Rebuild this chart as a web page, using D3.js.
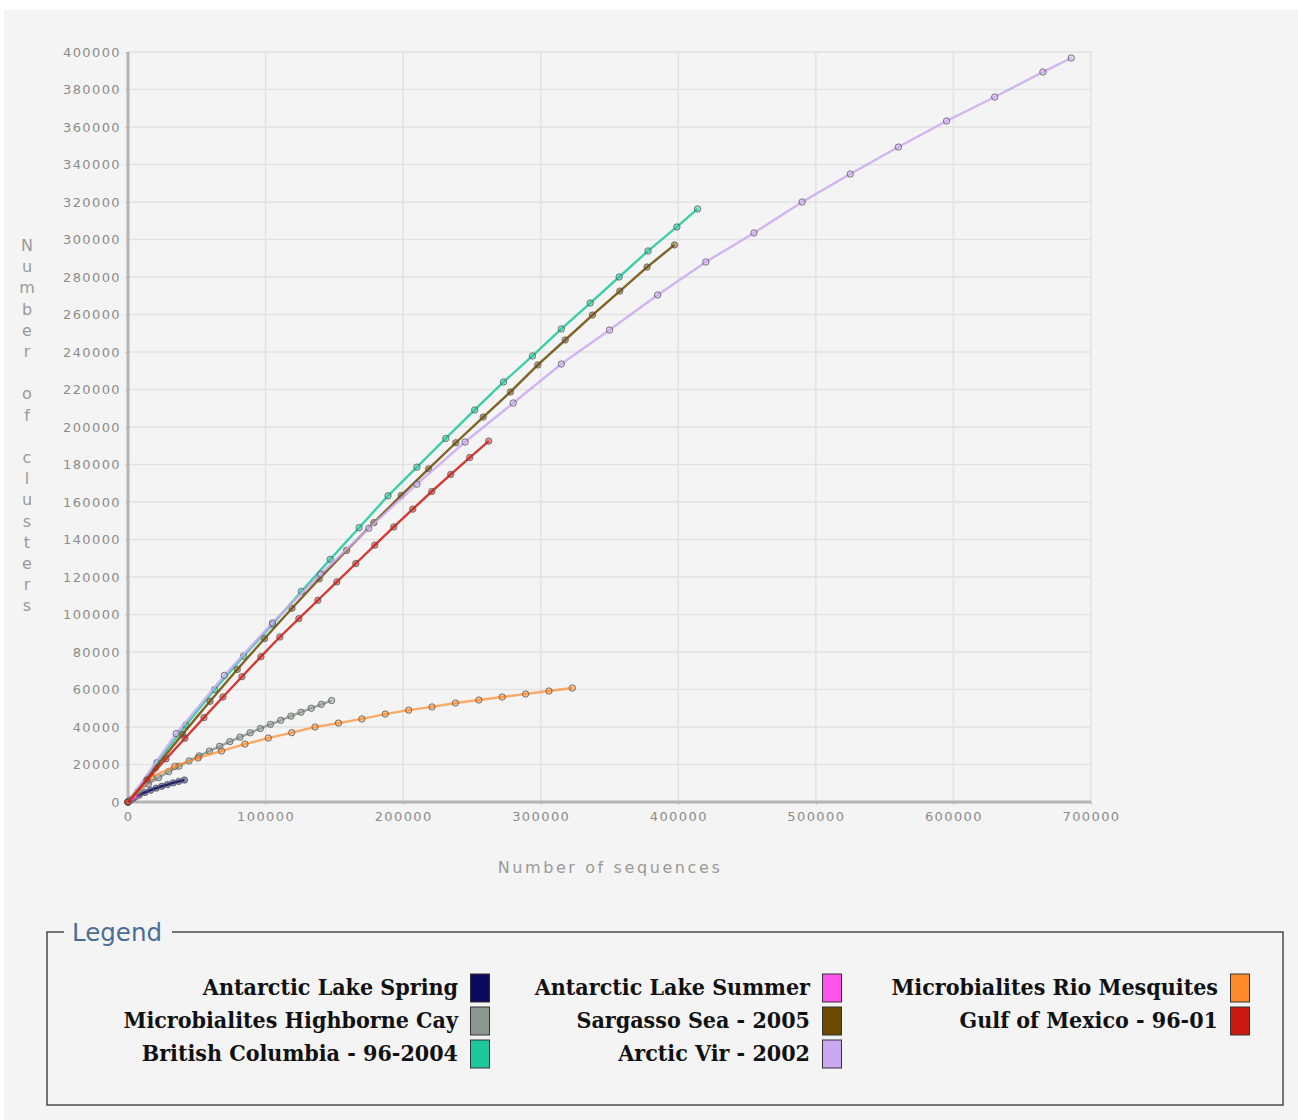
<!DOCTYPE html>
<html>
<head>
<meta charset="utf-8">
<script src="https://cdn.jsdelivr.net/npm/d3@7"></script>
<style>
  body { margin: 0; background: #fff; }
  svg { display: block; }
  .axis text { font-family: 'DejaVu Sans', sans-serif; font-size: 13px; fill: #8c8c8c; letter-spacing: 1.4px; }
  .axis .domain { display: none; }
  .axis line { stroke: #c8c8c8; }
</style>
</head>
<body>
<svg id="chart" width="1298" height="1120"></svg>
<script>
// series: [number of sequences, number of clusters]
const antarcticSpring = [[0,0],[4100,2100],[8200,3700],[12300,5100],[16400,6300],[20500,7400],[24600,8400],[28700,9300],[32800,10200],[36900,11000],[41000,11700]];
const antarcticSummer = [[0,0],[2000,1200],[4000,2200],[6000,3000]];
const rioMesquites = [[0,0],[17000,13300],[34000,19000],[51000,23500],[68000,27200],[85000,30900],[102000,34100],[119000,37000],[136000,40000],[153000,42100],[170000,44300],[187000,46900],[204000,49000],[221000,50700],[238000,52800],[255000,54400],[272000,56000],[289000,57600],[306000,59200],[323000,60800]];
const highborneCay = [[0,0],[7400,5700],[14800,9600],[22200,13000],[29600,16200],[37000,19100],[44400,21900],[51800,24600],[59200,27200],[66600,29700],[74000,32200],[81400,34600],[88800,36900],[96200,39200],[103600,41400],[111000,43600],[118400,45800],[125800,47900],[133200,50000],[140600,52100],[148000,54100]];
const sargassoSea = [[0,0],[19900,18300],[39700,36200],[59600,53700],[79400,70700],[99300,87200],[119200,103300],[139000,119000],[158900,134200],[178700,149000],[198600,163500],[218500,177700],[238300,191600],[258200,205300],[278000,218700],[297900,233100],[317800,246400],[337600,259700],[357500,272500],[377300,285300],[397200,297100]];
const gulfOfMexico = [[0,0],[13800,11800],[27600,23000],[41400,34000],[55200,45000],[69000,56000],[82800,66800],[96600,77500],[110400,88000],[124200,97800],[138000,107600],[151800,117400],[165600,127200],[179400,137000],[193200,146700],[207000,156200],[220800,165600],[234600,174700],[248400,183700],[262200,192500]];
const britishColumbia = [[0,0],[21000,21000],[42000,41000],[63000,60000],[84000,77800],[105000,94700],[126000,112300],[147000,129400],[168000,146300],[189000,163300],[210000,178600],[231000,193900],[252000,209100],[273000,224000],[294000,237900],[315000,252300],[336000,266100],[357000,280000],[378000,293900],[399000,306700],[414000,316300]];
const arcticVir = [[0,0],[35000,36500],[70000,67500],[105000,95500],[140000,121500],[175000,146000],[210000,169500],[245000,192000],[280000,212800],[315000,233600],[350000,251700],[385000,270400],[420000,288000],[455000,303500],[490000,320000],[525000,334900],[560000,349300],[595000,363200],[630000,376000],[665000,389300],[685600,396800]];

// legend order (row by row)
const seriesNames = ['Antarctic Lake Spring', 'Antarctic Lake Summer', 'Microbialites Rio Mesquites',
  'Microbialites Highborne Cay', 'Sargasso Sea - 2005', 'Gulf of Mexico - 96-01',
  'British Columbia - 96-2004', 'Arctic Vir - 2002'];
const seriesColors = ['#0a0a5e', '#ff55ee', '#ff8a2a', '#8b9890', '#6b4a00', '#cc1a10', '#1dc79c', '#cba8f2'];
const seriesData = [antarcticSpring, antarcticSummer, rioMesquites, highborneCay, sargassoSea, gulfOfMexico, britishColumbia, arcticVir];

const xTicks = d3.range(0, 700001, 100000);
const yTicks = d3.range(0, 400001, 20000);

const svg = d3.select('#chart');

// page panel
svg.append('rect')
  .attr('x', 4).attr('y', 10)
  .attr('width', 1294).attr('height', 1110)
  .attr('fill', '#f4f4f4');

const plot = { left: 128, right: 1091, top: 52, bottom: 802 };

let x = d3.scaleLinear().domain([0, 700000]).range([plot.left, plot.right]);
let y = d3.scaleLinear().domain([0, 400000]).range([plot.bottom, plot.top]);

// grid
svg.append('g')
  .selectAll('line')
  .data(yTicks)
  .join('line')
  .attr('x1', plot.left).attr('x2', plot.right)
  .attr('y1', d => y(d)).attr('y2', d => y(d))
  .attr('stroke', '#e2e2e2').attr('stroke-width', 1.5);

svg.append('g')
  .selectAll('line')
  .data(xTicks)
  .join('line')
  .attr('x1', d => x(d)).attr('x2', d => x(d))
  .attr('y1', plot.top).attr('y2', plot.bottom)
  .attr('stroke', '#e2e2e2').attr('stroke-width', 1.5);

// axes
svg.append('g')
  .attr('class', 'axis')
  .attr('transform', 'translate(' + plot.left + ',0)')
  .call(d3.axisLeft(y).tickValues(yTicks).tickSize(3).tickPadding(4).tickFormat(d3.format('d')));

svg.append('g')
  .attr('class', 'axis')
  .attr('transform', 'translate(0,' + plot.bottom + ')')
  .call(d3.axisBottom(x).tickValues(xTicks).tickSize(3).tickPadding(7).tickFormat(d3.format('d')));

svg.append('line')
  .attr('x1', plot.left).attr('x2', plot.left)
  .attr('y1', plot.top).attr('y2', plot.bottom + 1)
  .attr('stroke', '#b4b4b4').attr('stroke-width', 3);
svg.append('line')
  .attr('x1', plot.left).attr('x2', plot.right)
  .attr('y1', plot.bottom).attr('y2', plot.bottom)
  .attr('stroke', '#b4b4b4').attr('stroke-width', 3);

// axis titles
svg.append('text')
  .attr('x', 610).attr('y', 873)
  .attr('text-anchor', 'middle')
  .attr('font-family', 'DejaVu Sans, sans-serif')
  .attr('font-size', 16)
  .attr('letter-spacing', '2.6px')
  .attr('fill', '#9a9a9a')
  .text('Number of sequences');

let yTitle = svg.append('text')
  .attr('font-family', 'DejaVu Sans, sans-serif')
  .attr('font-size', 16)
  .attr('fill', '#9a9a9a')
  .attr('text-anchor', 'middle');
'Number of clusters'.split('').forEach((ch, i) => {
  yTitle.append('tspan')
    .attr('x', 27)
    .attr('y', 251 + i * 21.2)
    .text(ch === ' ' ? '\u00a0' : ch);
});

// lines and points
const line = d3.line().x(d => x(d[0])).y(d => y(d[1]));
const drawOrder = [0, 1, 3, 6, 4, 7, 2, 5];

drawOrder.forEach(i => {
  svg.append('path')
    .datum(seriesData[i])
    .attr('fill', 'none')
    .attr('stroke', seriesColors[i])
    .attr('stroke-opacity', i === 2 ? 0.7 : 0.85)
    .attr('stroke-width', 2.4)
    .attr('d', line);

  svg.append('g')
    .selectAll('circle')
    .data(seriesData[i])
    .join('circle')
    .attr('cx', d => x(d[0]))
    .attr('cy', d => y(d[1]))
    .attr('r', 3.2)
    .attr('fill', seriesColors[i])
    .attr('fill-opacity', 0.45)
    .attr('stroke', '#555')
    .attr('stroke-opacity', 0.75)
    .attr('stroke-width', 1);
});

// legend box (fieldset look)
const lg = { left: 47, right: 1283, top: 932, bottom: 1105 };
svg.append('path')
  .attr('d', 'M64,' + lg.top + 'H' + lg.left + 'V' + lg.bottom + 'H' + lg.right + 'V' + lg.top + 'H172')
  .attr('fill', 'none')
  .attr('stroke', '#4a4a4a')
  .attr('stroke-width', 1.5);

svg.append('text')
  .attr('x', 72).attr('y', 941)
  .attr('font-family', 'DejaVu Sans, sans-serif')
  .attr('font-size', 24.5)
  .attr('fill', '#4a6d96')
  .text('Legend');

const colRight = [458, 810, 1218];
const rowMid = [988, 1021, 1054];

let items = svg.append('g')
  .selectAll('g')
  .data(seriesNames)
  .join('g')
  .attr('transform', (d, i) => 'translate(' + colRight[i % 3] + ',' + rowMid[Math.floor(i / 3)] + ')');

items.append('text')
  .attr('x', 0).attr('y', 7)
  .attr('text-anchor', 'end')
  .attr('font-family', 'DejaVu Serif, serif')
  .attr('font-weight', 'bold')
  .attr('font-stretch', 'condensed')
  .attr('font-size', 23)
  .attr('fill', '#111')
  .text(d => d);

items.append('rect')
  .attr('x', 12.5).attr('y', -14)
  .attr('width', 19).attr('height', 28)
  .attr('fill', (d, i) => seriesColors[i])
  .attr('stroke', '#333')
  .attr('stroke-width', 1);
</script>
</body>
</html>
